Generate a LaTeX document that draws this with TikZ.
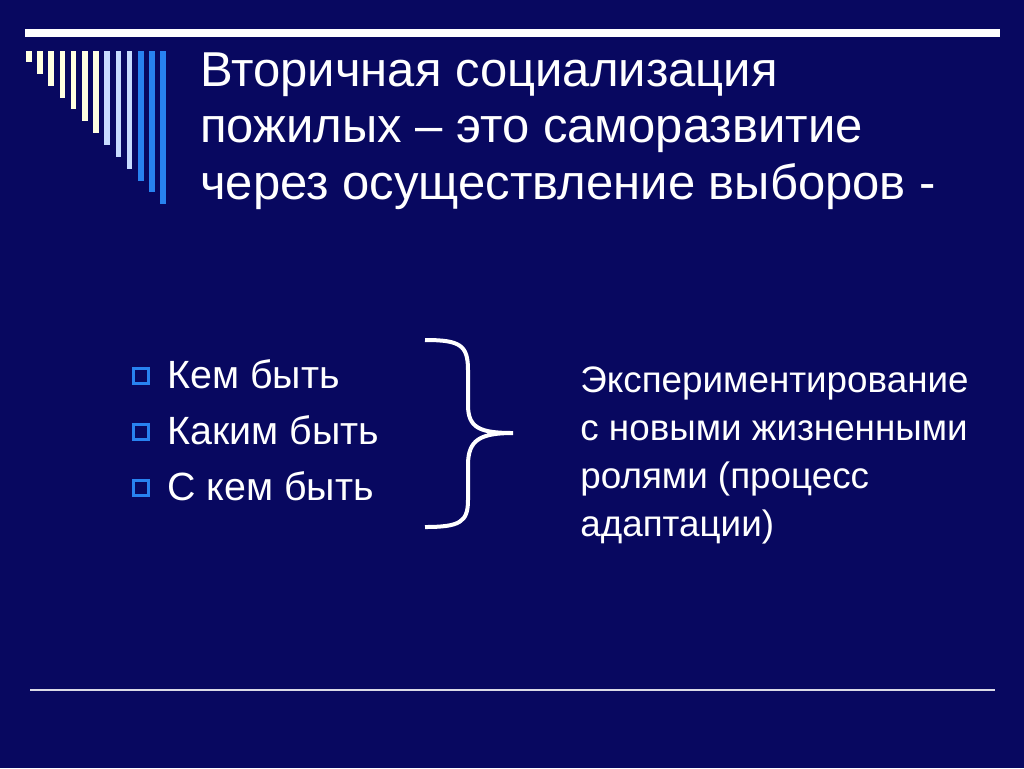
\documentclass[tikz,border=0pt]{standalone}
\usepackage{fontspec}
\setmainfont{Liberation Sans}
\definecolor{bg}{RGB}{8,8,96}
\definecolor{cream}{RGB}{255,255,225}
\definecolor{lb}{RGB}{200,220,255}
\definecolor{mb}{RGB}{40,130,240}
\begin{document}
\begin{tikzpicture}[x=0.5pt,y=-0.5pt,
  txt/.style={anchor=base west,text=white,inner sep=0},
  sq/.style={draw=mb,line width=1.5pt,minimum size=7.5pt,inner sep=0}]
\fill[bg] (0,0) rectangle (1024,768);
\useasboundingbox (0,0) rectangle (1024,768);
\draw[white,line width=3.8pt] (25,33) -- (1000,33);
\foreach \i/\c in {0/cream,1/cream,2/cream,3/cream,4/cream,5/cream,6/cream,7/lb,8/lb,9/lb,10/mb,11/mb,12/mb}{
  \fill[\c] ({26+\i*11.2},51) rectangle ({31.5+\i*11.2},{62+\i*11.85});
}
\node[txt,font=\fontsize{24.5}{29}\selectfont] (t1) at (200,86) {Вторичная социализация};
\node[txt,font=\fontsize{24.5}{29}\selectfont] (t2) at (200,142) {пожилых – это саморазвитие};
\node[txt,font=\fontsize{24.5}{29}\selectfont] (t3) at (200,199) {через осуществление выборов -};
\foreach \n/\y/\t in {a/388/Кем быть,b/444/Каким быть,c/500/С кем быть}{
  \node[sq] (s\n) at (141,{\y-12}) {};
  \node[txt,font=\fontsize{19.7}{23}\selectfont] (\n) at (167,\y) {\t};
}
\draw[white,line width=2pt] (425,340) .. controls (460,340) and (468,345) .. (468,370)
  -- (468,405) .. controls (468,428) and (480,433) .. (513,433)
  (513,433) .. controls (480,433) and (468,440) .. (468,465)
  -- (468,500) .. controls (468,522) and (460,527) .. (425,527);
\foreach \n/\y/\t in {r1/392/Экспериментирование,r2/440/с новыми жизненными,r3/488/ролями (процесс,r4/536/адаптации)}{
  \node[txt,font=\fontsize{18.4}{22}\selectfont] (\n) at (580,\y) {\t};
}
\draw[white!85!bg,line width=0.8pt] (30,690) -- (995,690);
\end{tikzpicture}
\end{document}
